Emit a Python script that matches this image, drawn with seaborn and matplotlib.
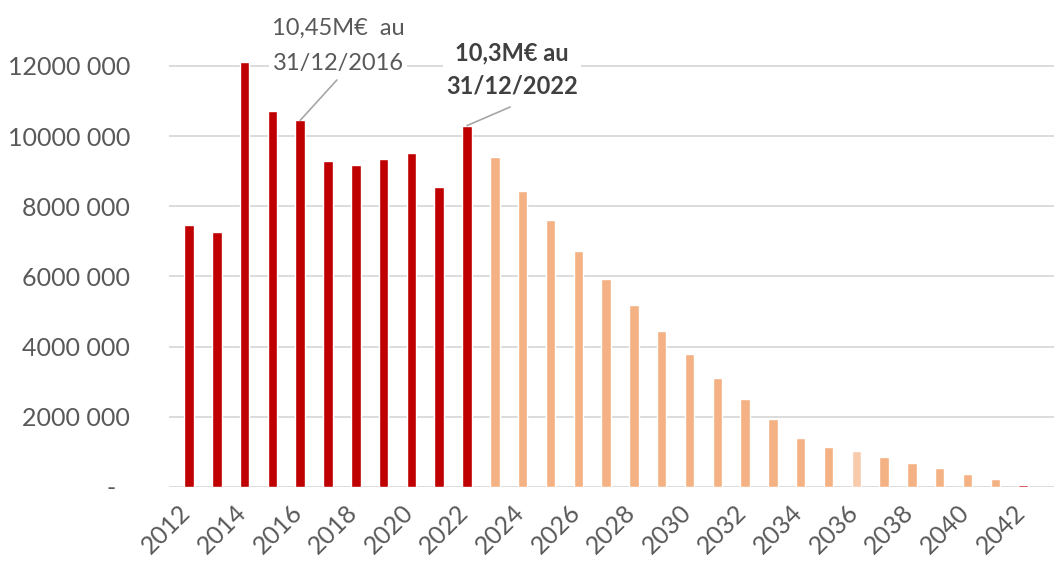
import matplotlib
matplotlib.use("Agg")
import matplotlib.pyplot as plt
import matplotlib.transforms as mtransforms
import seaborn as sns
import pandas as pd

# Annual amounts (EUR), realised 2012-2022 then projected run-off
years = list(range(2012, 2043))
values = [
    7480000, 7270000, 12120000, 10730000, 10450000, 9300000, 9190000,
    9350000, 9510000, 8560000, 10300000,
    9400000, 8440000, 7600000, 6730000, 5930000, 5190000, 4440000,
    3790000, 3100000, 2520000, 1940000, 1400000, 1140000, 1030000,
    850000, 680000, 540000, 370000, 230000, 60000,
]
phase = (["réalisé"] * 11 + ["projection"] * 13 + ["projection claire"]
         + ["projection"] * 5 + ["réalisé"])

y_ticks = [0, 2000000, 4000000, 6000000, 8000000, 10000000, 12000000]
y_tick_labels = ["-", "2000 000", "4000 000", "6000 000", "8000 000",
                 "10000 000", "12000 000"]

note_2016 = "10,45M€  au\n31/12/2016"
note_2022 = "10,3M€ au\n31/12/2022"

RED = "#C00000"
PEACH = "#F4B183"
PEACH_LIGHT = "#F8CBAD"
GRID = "#D9D9D9"
TXT = "#595959"

colors = [RED if p == "réalisé" else PEACH_LIGHT if p == "projection claire" else PEACH
          for p in phase]

df = pd.DataFrame({"annee": [str(y) for y in years], "montant": values})

sns.set_theme(style="white")
plt.rcParams["font.family"] = ["Lato", "DejaVu Sans"]

fig = plt.figure(figsize=(10.54, 5.62), dpi=100)
ax = fig.add_axes([0.1603, 0.1335, 0.8397, 0.8665])

sns.barplot(data=df, x="annee", y="montant", hue="annee", palette=colors,
            legend=False, width=0.34, ax=ax, zorder=3, saturation=1)

ax.set_xlim(-0.72, 31.11)
ax.set_ylim(0, 13880000)

ax.set_yticks(y_ticks)
ax.set_yticklabels(y_tick_labels)
ax.yaxis.grid(True, color=GRID, linewidth=1.3, zorder=0)
ax.set_axisbelow(True)
for s in ax.spines.values():
    s.set_visible(False)

ax.tick_params(axis="y", length=0, pad=28, labelsize=18, labelcolor=TXT)
ax.tick_params(axis="x", length=0, pad=4, labelsize=18, labelcolor=TXT)

# the dash for zero sits a little left of the digit column
zero_lbl = ax.get_yticklabels()[0]
zero_lbl.set_transform(zero_lbl.get_transform()
                       + mtransforms.ScaledTranslation(-14 / 100, 0, fig.dpi_scale_trans))

xt = list(range(0, len(years), 2))
ax.set_xticks(xt)
ax.set_xticklabels([str(years[i]) for i in xt], rotation=45, ha="right",
                   va="center", rotation_mode="anchor")
for lbl in ax.get_xticklabels():
    lbl.set_transform(lbl.get_transform()
                      + mtransforms.ScaledTranslation(-2 / 100, -16 / 100, fig.dpi_scale_trans))
ax.set_xlabel("")
ax.set_ylabel("")

# call-outs
i16 = years.index(2016)
i22 = years.index(2022)
ax.plot([5.32, i16], [11600000, values[i16]], color="#A6A6A6", lw=1.2, zorder=4)
ax.plot([11.55, i22], [10830000, values[i22]], color="#A6A6A6", lw=1.2, zorder=4)

ax.text(5.36, 12570000, note_2016, ha="center", va="center", fontsize=17,
        color=TXT, linespacing=1.82, zorder=5,
        bbox=dict(facecolor="white", edgecolor="none", pad=2))
ax.text(11.62, 11900000, note_2022, ha="center", va="center", fontsize=17,
        color="#404040", fontweight="bold", linespacing=1.55, zorder=5,
        bbox=dict(facecolor="white", edgecolor="none", pad=2))

fig.savefig("out.png", dpi=100, facecolor="white")
